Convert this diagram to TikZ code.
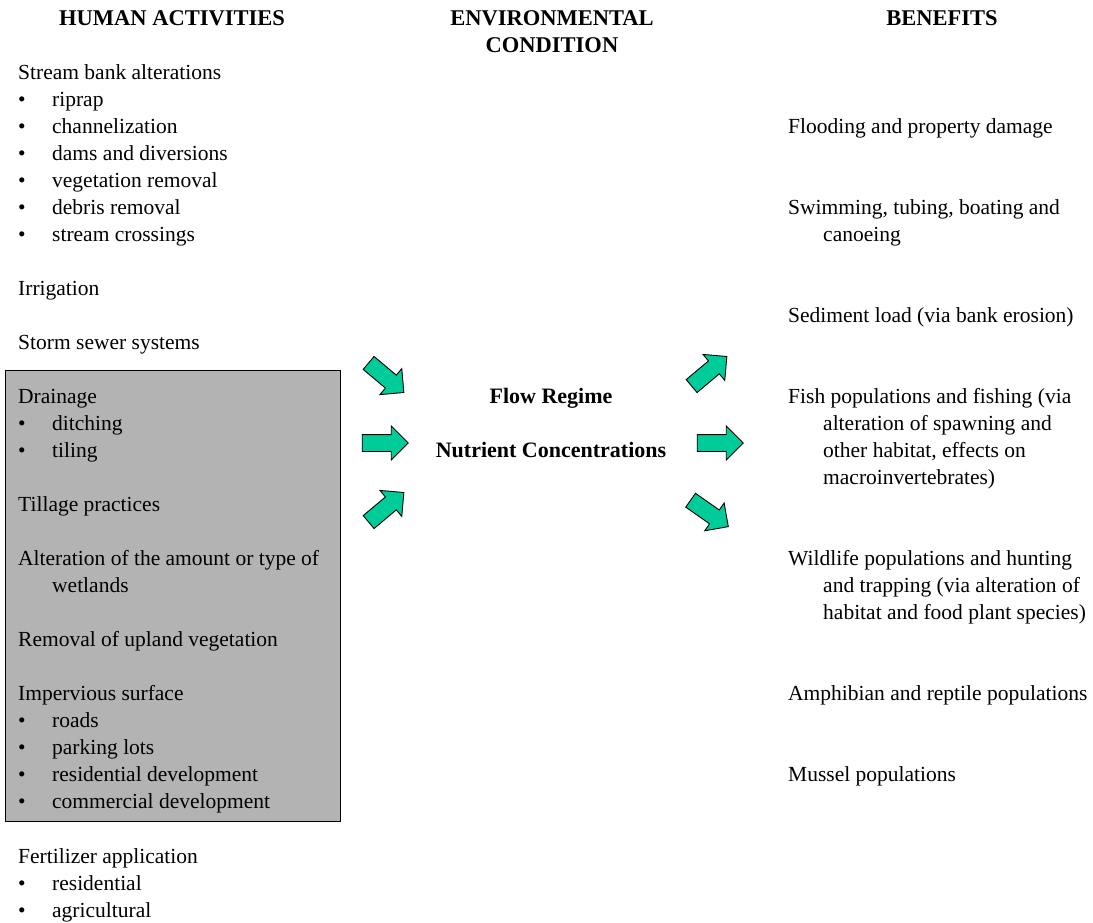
\documentclass[tikz,border=0pt]{standalone}
\usepackage{fontspec}
\setmainfont{Liberation Serif}
\usetikzlibrary{shapes.arrows}
\definecolor{arrowgreen}{RGB}{0,204,153}
\definecolor{boxgray}{RGB}{179,179,179}

\begin{document}
\begin{tikzpicture}[x=1pt,y=-1pt,
    every node/.style={inner sep=0pt,font=\fontsize{21.5}{27}\selectfont},
    txt/.style={anchor=base west,yshift=-1pt},
    head/.style={anchor=base,yshift=-1pt,font=\fontsize{22.5}{27}\selectfont\bfseries},
    mid/.style={anchor=base,yshift=-1pt,font=\fontsize{22}{27}\selectfont\bfseries},
    blk/.style={single arrow,draw=black,fill=arrowgreen,line width=0.9pt,
        minimum height=46pt,minimum width=33pt,single arrow head extend=8.5pt,inner sep=8pt}]
    \useasboundingbox (0,0) rectangle (1093,922);
    % shaded group of activities
    \draw[fill=boxgray,line width=0.8pt] (5,370) rectangle (340,821);
    % column heads
    \node[head] (hum) at (172,24) {HUMAN ACTIVITIES};
    \node[head] (env) at (552,24) {ENVIRONMENTAL};
    \node[head] (cond) at (552,51) {CONDITION};
    \node[head] (ben) at (942,24) {BENEFITS};
    % human activities
    \foreach \y/\t [count=\i] in {78/Stream bank alterations,294/Irrigation,348/Storm sewer systems,
        402/Drainage,510/Tillage practices,564/Alteration of the amount or type of,
        645/Removal of upland vegetation,699/Impervious surface,862/Fertilizer application}
        \node[txt] (act\i) at (18,\y) {\t};
    \node[txt] (act10) at (52,591) {wetlands};
    \foreach \y/\t [count=\i] in {105/riprap,132/channelization,159/dams and diversions,
        186/vegetation removal,213/debris removal,240/stream crossings,429/ditching,456/tiling,
        726/roads,753/parking lots,780/residential development,807/commercial development,
        889/residential,916/agricultural}
    {
        \node[txt] (dot\i) at (18,\y) {\textbullet};
        \node[txt] (sub\i) at (52,\y) {\t};
    }
    % environmental condition
    \node[mid] (flow) at (551,402) {Flow Regime};
    \node[mid] (nutr) at (551,456) {Nutrient Concentrations};
    % benefits
    \foreach \y/\t [count=\i] in {132/Flooding and property damage,213/{Swimming, tubing, boating and},
        321/Sediment load (via bank erosion),402/Fish populations and fishing (via,
        564/Wildlife populations and hunting,699/Amphibian and reptile populations,780/Mussel populations}
        \node[txt] (ben\i) at (788,\y) {\t};
    \foreach \y/\t [count=\i] in {240/canoeing,429/alteration of spawning and,456/{other habitat, effects on},
        483/macroinvertebrates),591/and trapping (via alteration of,618/habitat and food plant species)}
        \node[txt] (cont\i) at (823,\y) {\t};
    % block arrows
    \node[blk,rotate=-40] (in1) at (383,375) {};
    \node[blk] (in2) at (381,443) {};
    \node[blk,rotate=40] (in3) at (383,510) {};
    \node[blk,rotate=40] (out1) at (706,374) {};
    \node[blk] (out2) at (716,443) {};
    \node[blk,rotate=-35] (out3) at (706,511) {};
\end{tikzpicture}
\end{document}
